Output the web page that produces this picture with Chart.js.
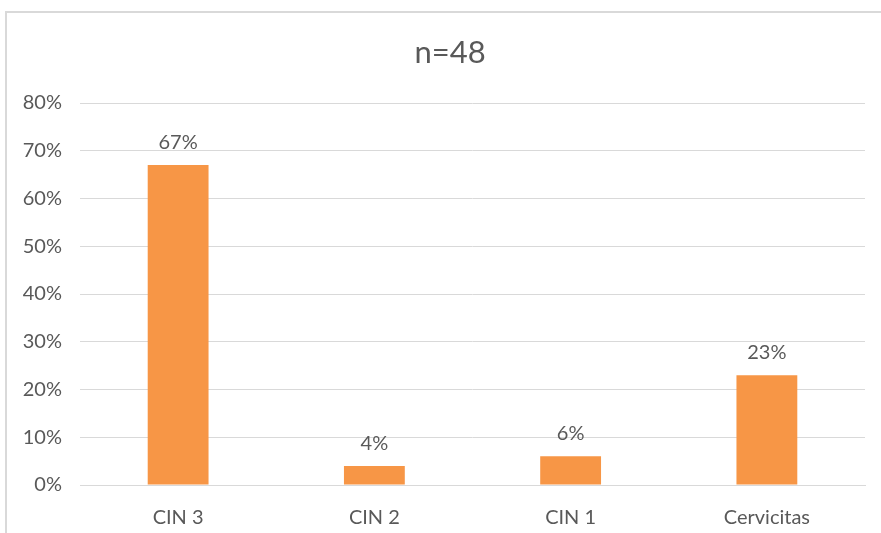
<!DOCTYPE html>
<html>
<head>
<meta charset="utf-8">
<script src="https://cdn.jsdelivr.net/npm/chart.js@4"></script>
<style>
  body { margin: 0; background: #fff; }
  #wrap { position: relative; width: 881px; height: 533px; overflow: hidden; }
  #frame { position: absolute; left: 5px; top: 11px; width: 900px; height: 600px; border: 2px solid #d9d9d9; box-sizing: border-box; }
  canvas { position: absolute; left: 0; top: 0; }
</style>
</head>
<body>
<div id="wrap">
  <div id="frame"></div>
  <canvas id="chart" width="881" height="533"></canvas>
</div>
<script>
const title = 'n=48';
const categories = ['CIN 3', 'CIN 2', 'CIN 1', 'Cervicitas'];
const percents = [67, 4, 6, 23];
const yTicks = [0, 10, 20, 30, 40, 50, 60, 70, 80];

const textColor = '#595959';
const fontFamily = 'Lato, "Open Sans", sans-serif';

// draws the value labels above bars and the title
const labelPlugin = {
  id: 'labels',
  afterDatasetsDraw(chart) {
    const ctx = chart.ctx;
    ctx.save();
    ctx.fillStyle = textColor;
    ctx.font = '20px ' + fontFamily;
    ctx.textAlign = 'center';
    ctx.textBaseline = 'alphabetic';
    chart.getDatasetMeta(0).data.forEach((bar, i) => {
      ctx.fillText(percents[i] + '%', bar.x, bar.y - 16);
    });
    ctx.font = '31px ' + fontFamily;
    ctx.textBaseline = 'middle';
    ctx.fillText(title, 450, 53);
    ctx.restore();
  }
};

new Chart(document.getElementById('chart'), {
  type: 'bar',
  data: {
    labels: categories,
    datasets: [{
      data: percents,
      backgroundColor: '#f79646',
      barPercentage: 0.31,
      categoryPercentage: 1
    }]
  },
  options: {
    responsive: false,
    animation: false,
    layout: { padding: { top: 103, right: 16, bottom: 0, left: 0 } },
    plugins: { legend: { display: false }, tooltip: { enabled: false } },
    scales: {
      x: {
        grid: { display: false },
        border: { color: '#d9d9d9', width: 1 },
        ticks: { color: textColor, font: { family: fontFamily, size: 20 }, padding: 13 },
        afterFit(s) { s.height = 48; }
      },
      y: {
        min: 0, max: 80,
        afterBuildTicks(s) { s.ticks = yTicks.map(v => ({ value: v })); },
        grid: { color: '#d9d9d9', drawTicks: false },
        border: { display: false },
        ticks: { color: textColor, font: { family: fontFamily, size: 20 }, padding: 18, callback: v => v + '%' },
        afterFit(s) { s.width = 80; }
      }
    }
  },
  plugins: [labelPlugin]
});
</script>
</body>
</html>
